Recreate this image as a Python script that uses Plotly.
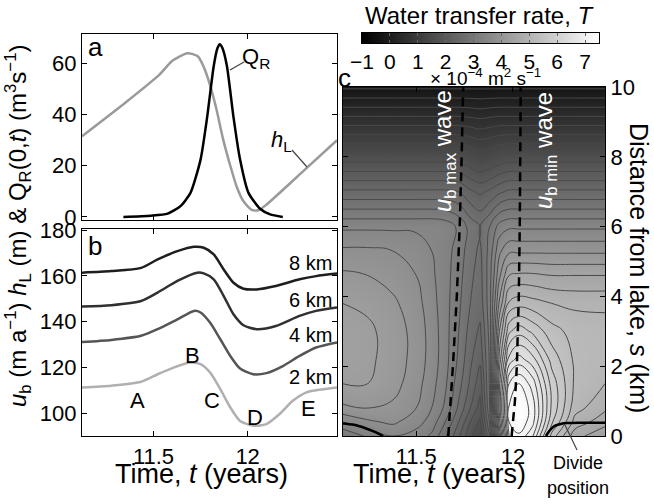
import plotly.graph_objects as go

W, H = 654, 504
FONT = "Liberation Sans, Arial, sans-serif"

# ---------------- data: panel a ----------------
QR_T = [11.34, 11.487, 11.575, 11.645, 11.697, 11.75, 11.785, 11.82, 11.84, 11.852,
        11.866, 11.89, 11.925, 11.96, 12.004, 12.066, 12.12, 12.187]
QR_V = [0, 0.5, 1.3, 4.3, 9.5, 22.4, 39, 59, 66, 67.5, 66, 59, 39, 22.4, 9.5, 3.2, 1.0, 0]

HL_T = [11.12, 11.35, 11.53, 11.60, 11.68, 11.735, 11.767, 11.80, 11.835, 11.87,
        11.908, 11.943, 11.978, 12.022, 12.057, 12.10, 12.3, 12.475]
HL_V = [31.5, 44.6, 55.5, 61.0, 64.0, 62.8, 58.6, 51.6, 41.9, 30.3,
        20.0, 11.6, 6.1, 2.8, 2.6, 4.8, 18.2, 30.0]

# ---------------- data: panel b ----------------
UB8_T = [11.12, 11.276, 11.434, 11.522, 11.627, 11.715, 11.767, 11.82, 11.873, 11.925,
         11.978, 12.048, 12.15, 12.276, 12.364, 12.475]
UB8_V = [161.4, 162.1, 163.5, 167.2, 170.8, 172.7, 172.3, 169.4, 162.8, 157.0,
         154.4, 154.1, 155.6, 158.5, 159.9, 161.0]
UB6_T = [11.12, 11.276, 11.434, 11.522, 11.627, 11.732, 11.767, 11.82, 11.873, 11.925,
         11.978, 12.048, 12.15, 12.276, 12.364, 12.475]
UB6_V = [146.6, 147.2, 149.0, 152.7, 157.8, 161.4, 161.1, 158.5, 151.2, 143.2,
         138.4, 136.7, 138.1, 142.5, 144.7, 146.2]
UB4_T = [11.12, 11.276, 11.434, 11.522, 11.627, 11.715, 11.75, 11.80, 11.855, 11.908,
         11.96, 12.03, 12.10, 12.19, 12.276, 12.364, 12.475]
UB4_V = [131.1, 132.0, 133.8, 136.7, 141.0, 144.7, 144.0, 139.6, 132.3, 125.0,
         119.5, 117.0, 117.5, 120.7, 125.0, 128.7, 130.9]
UB2_T = [11.12, 11.276, 11.434, 11.522, 11.61, 11.697, 11.75, 11.80, 11.855, 11.908,
         11.96, 12.03, 12.10, 12.17, 12.24, 12.31, 12.38, 12.475]
UB2_V = [111.2, 112.0, 113.7, 117.0, 120.0, 122.1, 121.4, 117.8, 110.5, 102.5,
         96.6, 94.5, 95.2, 99.6, 105.4, 109.0, 110.2, 111.2]
DIST_LABELS = ["8 km", "6 km", "4 km", "2 km"]
PHASE_LABELS = ["A", "B", "C", "D", "E"]

# ---------------- data: panel c (water transfer rate, 1e-4 m2/s) ----------------
T_GRID = [11.12, 11.25, 11.38, 11.5, 11.58, 11.65, 11.72, 11.78, 11.83, 11.88,
          11.93, 11.98, 12.03, 12.1, 12.2, 12.32, 12.475]
S_GRID = [0, 0.4, 0.8, 1.5, 2.2, 3, 3.8, 4.6, 5.3, 6, 7, 8, 9, 10]
T_RATE = [
    [3.0, 3.3, 3.5, 3.4, 3.2, 2.8, 2.3, 1.8, 1.5, 2.5, 5.0, 7.0, 7.2, 6.8, 5.4, 4.6, 4.3],
    [3.5, 3.7, 3.8, 3.6, 3.4, 3.0, 2.5, 2.0, 1.7, 2.8, 5.4, 7.25, 7.45, 7.1, 5.8, 4.9, 4.6],
    [3.95, 4.0, 3.95, 3.75, 3.5, 3.2, 2.7, 2.25, 1.9, 3.0, 5.6, 7.3, 7.5, 7.15, 5.95, 5.1, 4.8],
    [4.25, 4.25, 4.1, 3.85, 3.6, 3.3, 2.85, 2.45, 2.1, 3.05, 5.45, 7.0, 7.25, 6.9, 5.9, 5.2, 5.0],
    [4.35, 4.3, 4.15, 3.9, 3.65, 3.35, 2.95, 2.55, 2.3, 3.05, 5.1, 6.35, 6.6, 6.35, 5.65, 5.2, 5.1],
    [4.35, 4.3, 4.15, 3.9, 3.65, 3.35, 3.0, 2.65, 2.45, 3.1, 4.75, 5.7, 5.9, 5.7, 5.35, 5.15, 5.1],
    [4.25, 4.2, 4.05, 3.85, 3.6, 3.35, 3.05, 2.75, 2.6, 3.15, 4.3, 5.05, 5.15, 5.1, 5.0, 4.95, 4.95],
    [4.05, 4.0, 3.9, 3.75, 3.55, 3.35, 3.1, 2.8, 2.65, 3.15, 3.95, 4.5, 4.55, 4.55, 4.5, 4.5, 4.5],
    [3.8, 3.8, 3.75, 3.65, 3.5, 3.35, 3.15, 2.85, 2.7, 3.1, 3.7, 3.95, 3.95, 3.95, 3.95, 3.95, 3.95],
    [3.45, 3.45, 3.45, 3.45, 3.45, 3.4, 3.2, 2.9, 2.75, 3.0, 3.35, 3.45, 3.45, 3.45, 3.45, 3.45, 3.45],
    [2.55, 2.55, 2.55, 2.55, 2.55, 2.55, 2.5, 2.3, 2.2, 2.3, 2.45, 2.55, 2.55, 2.55, 2.55, 2.55, 2.55],
    [1.6, 1.6, 1.6, 1.6, 1.6, 1.6, 1.6, 1.5, 1.4, 1.45, 1.55, 1.6, 1.6, 1.6, 1.6, 1.6, 1.6],
    [0.65, 0.65, 0.65, 0.65, 0.65, 0.65, 0.65, 0.62, 0.58, 0.62, 0.65, 0.65, 0.65, 0.65, 0.65, 0.65, 0.65],
    [-0.3, -0.3, -0.3, -0.3, -0.3, -0.3, -0.3, -0.3, -0.3, -0.3, -0.3, -0.3, -0.3, -0.3, -0.3, -0.3, -0.3],
]
CB_RANGE = [-1, 7.5]
CB_STOPS = [-1, 3.25, 7.5]
CB_TICKS = [-1, 0, 1, 2, 3, 4, 5, 6, 7]

WAVE_MAX_S = [0, 2, 4, 6, 8, 10]
WAVE_MAX_T = [11.666, 11.69, 11.71, 11.725, 11.735, 11.743]
WAVE_MIN_S = [0, 1, 2, 4, 6, 8, 10]
WAVE_MIN_T = [11.993, 12.01, 12.02, 12.03, 12.035, 12.038, 12.04]

DIV_L_T = [11.12, 11.18, 11.235, 11.29, 11.33]
DIV_L_S = [0.36, 0.32, 0.23, 0.11, 0.0]
DIV_R_T = [12.17, 12.19, 12.215, 12.25, 12.28, 12.35, 12.475]
DIV_R_S = [0.0, 0.16, 0.29, 0.35, 0.37, 0.38, 0.38]

X_RANGE = [11.12, 12.475]
GRAYS = [[0, "black"], [1, "white"]]


def px(x):
    return x / W


def py(y):
    return 1 - y / H


fig = go.Figure()

# panel a
fig.add_trace(go.Scatter(x=HL_T, y=HL_V, mode="lines", line=dict(color="#9a9a9a", width=2.5, shape="spline", smoothing=0.6),
                         xaxis="x", yaxis="y", showlegend=False))
fig.add_trace(go.Scatter(x=QR_T, y=QR_V, mode="lines", line=dict(color="black", width=2.5, shape="spline", smoothing=0.6),
                         xaxis="x", yaxis="y", showlegend=False))

# panel b
for tt, vv, col in [(UB8_T, UB8_V, "#1e1e1e"), (UB6_T, UB6_V, "#303030"),
                    (UB4_T, UB4_V, "#555555"), (UB2_T, UB2_V, "#b0b0b0")]:
    fig.add_trace(go.Scatter(x=tt, y=vv, mode="lines", line=dict(color=col, width=2.5, shape="spline", smoothing=0.7),
                             xaxis="x2", yaxis="y2", showlegend=False))

# panel c
fig.add_trace(go.Contour(
    x=T_GRID, y=S_GRID, z=T_RATE, xaxis="x3", yaxis="y3",
    colorscale=GRAYS, zmin=CB_RANGE[0], zmax=CB_RANGE[1], zauto=False, showscale=False,
    contours=dict(start=-1, end=7.5, size=0.25, coloring="heatmap", showlines=True),
    line=dict(color="#4a4a4a", width=1, smoothing=1.2),
    hoverinfo="skip",
))
fig.add_trace(go.Scatter(x=WAVE_MAX_T, y=WAVE_MAX_S, mode="lines", line=dict(color="black", width=2.5, dash="9px,6px"),
                         xaxis="x3", yaxis="y3", showlegend=False))
fig.add_trace(go.Scatter(x=WAVE_MIN_T, y=WAVE_MIN_S, mode="lines", line=dict(color="black", width=2.5, dash="9px,6px"),
                         xaxis="x3", yaxis="y3", showlegend=False))
fig.add_trace(go.Scatter(x=DIV_L_T, y=DIV_L_S, mode="lines", line=dict(color="black", width=2.5, shape="spline"),
                         xaxis="x3", yaxis="y3", showlegend=False))
fig.add_trace(go.Scatter(x=DIV_R_T, y=DIV_R_S, mode="lines", line=dict(color="black", width=2.5, shape="spline"),
                         xaxis="x3", yaxis="y3", showlegend=False))

# colour bar drawn as its own small heatmap
fig.add_trace(go.Heatmap(x=CB_STOPS, y=[0], z=[CB_STOPS], colorscale=GRAYS, zmin=CB_RANGE[0], zmax=CB_RANGE[1],
                         zsmooth="best", showscale=False, xaxis="x4", yaxis="y4", hoverinfo="skip"))

axis_common = dict(showline=True, linecolor="black", linewidth=1.3, mirror="ticks", ticks="inside",
                   ticklen=5, tickcolor="black", showgrid=False, zeroline=False,
                   tickfont=dict(family=FONT, size=22, color="black"))

fig.update_layout(
    width=W, height=H, margin=dict(l=0, r=0, t=0, b=0, autoexpand=False),
    paper_bgcolor="white", plot_bgcolor="white", showlegend=False,
    font=dict(family=FONT, color="black"),
    xaxis=dict(domain=[px(82), px(337)], range=X_RANGE, tickvals=[11.5, 12], showticklabels=False,
               anchor="y", **axis_common),
    yaxis=dict(domain=[py(220), py(34)], range=[-1.2, 71.5], tickvals=[0, 20, 40, 60], anchor="x", **axis_common),
    xaxis2=dict(domain=[px(82), px(337)], range=X_RANGE, tickvals=[11.5, 12], ticktext=["11.5", "12"],
                anchor="y2", **axis_common),
    yaxis2=dict(domain=[py(436), py(229)], range=[90, 180.5], tickvals=[100, 120, 140, 160, 180], anchor="x2",
                **axis_common),
    xaxis3=dict(domain=[px(342.5), px(605)], range=X_RANGE, tickvals=[11.5, 12], ticktext=["11.5", "12"],
                anchor="y3", **axis_common),
    yaxis3=dict(domain=[py(436), py(87)], range=[0, 10], tickvals=[0, 2, 4, 6, 8, 10], side="right",
                anchor="x3", **axis_common),
    xaxis4=dict(domain=[px(362), px(599)], range=CB_RANGE, tickvals=CB_TICKS, anchor="y4",
                showline=True, linecolor="black", linewidth=1, mirror="ticks", ticks="inside", ticklen=3,
                tickcolor="#666", showgrid=False, zeroline=False,
                tickfont=dict(family=FONT, size=21, color="black")),
    yaxis4=dict(domain=[py(43), py(33)], range=[-0.5, 0.5], anchor="x4", showticklabels=False, ticks="",
                showline=True, linecolor="black", linewidth=1, mirror=True, showgrid=False, zeroline=False),
)

ann = []


def label(x, y, text, size=22, color="black", angle=0, xanchor="center", yanchor="middle"):
    ann.append(dict(x=px(x), y=py(y), xref="paper", yref="paper", text=text, showarrow=False,
                    font=dict(family=FONT, size=size, color=color), textangle=angle,
                    xanchor=xanchor, yanchor=yanchor))


# panel letters
label(95, 47, "a", 26)
label(95, 246, "b", 26)
label(345, 78, "c", 26)

# panel a curve labels
label(256, 58, "Q<sub>R</sub>", 22)
label(281, 141, "<i>h</i><sub>L</sub>", 22)

# panel b labels
for txt, yy in zip(DIST_LABELS, [263, 300, 335, 377]):
    label(334, yy, txt, 20, xanchor="right")
for txt, (xx, yy) in zip(PHASE_LABELS, [(137, 400), (192, 355), (212, 400), (255, 417), (308, 408)]):
    label(xx, yy, txt, 22)

# axis titles
label(201, 474, "Time, <i>t</i> (years)", 27)
label(439, 474, "Time, <i>t</i> (years)", 27)
label(18, 226, "<i>u</i><sub>b</sub> (m a<sup>−1</sup>) <i>h</i><sub>L</sub> (m) &amp; Q<sub>R</sub>(0,<i>t</i>) (m<sup>3</sup>s<sup>−1</sup>)",
      24, angle=-90)
label(639, 268, "Distance from lake, <i>s</i> (km)", 25, angle=90)

# colorbar texts
label(480, 15, "Water transfer rate, <i>T</i>", 24)
label(485, 77, "× 10<sup>−4</sup> m<sup>2</sup> s<sup>−1</sup>", 19)

# wave labels
label(444, 151, "<i>u</i><sub>b max</sub> wave", 24, color="white", angle=-90)
label(545, 151, "<i>u</i><sub>b min</sub> wave", 24, color="white", angle=-90)

# divide label
label(578, 463, "Divide", 18)
label(578, 488, "position", 18)

fig.update_layout(annotations=ann)

shapes = []
for (x0, y0, x1, y1) in [(230, 70, 244, 62), (292, 150, 307, 167), (565, 425, 577, 450)]:
    shapes.append(dict(type="line", xref="paper", yref="paper", x0=px(x0), y0=py(y0), x1=px(x1), y1=py(y1),
                       line=dict(color="#444", width=1.2)))
fig.update_layout(shapes=shapes)

fig.write_html("out.html", config={"displayModeBar": False},
               post_script="document.body.style.margin='0';document.body.style.overflow='hidden';")
